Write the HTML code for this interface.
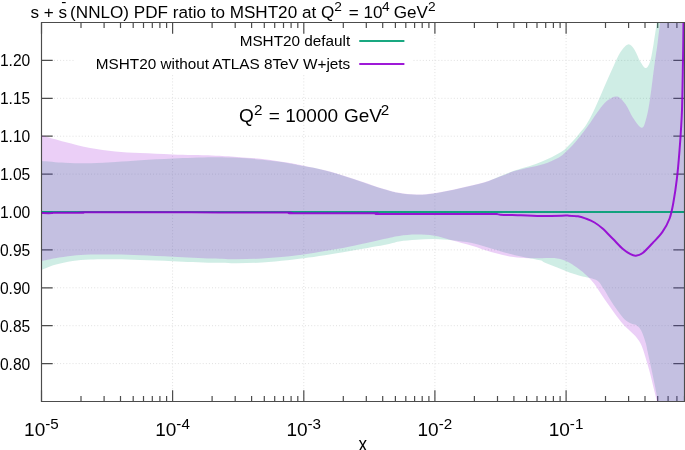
<!DOCTYPE html>
<html><head><meta charset="utf-8"><title>plot</title>
<style>html,body{margin:0;padding:0;background:#fff;overflow:hidden}body{width:685px;height:450px;position:relative}</style></head>
<body>
<svg width="685" height="450" viewBox="0 0 685 450" style="position:absolute;left:0;top:0;will-change:transform">
<defs><clipPath id="c"><rect x="41.5" y="22.5" width="643.5" height="379.0"/></clipPath></defs>
<path d="M172.6 22.5 V401.5 M303.8 22.5 V401.5 M434.9 22.5 V401.5 M566.1 22.5 V401.5 M41.5 60.4 H684.5 M41.5 98.3 H684.5 M41.5 136.2 H684.5 M41.5 174.1 H684.5 M41.5 212.0 H684.5 M41.5 249.9 H684.5 M41.5 287.8 H684.5 M41.5 325.7 H684.5 M41.5 363.6 H684.5" stroke="#e0e0e0" stroke-width="1" stroke-dasharray="1 2.1" fill="none"/>
<rect x="74" y="34" width="338.5" height="41" fill="#fff"/>
<path d="M41.5 401.5 v-11.3 M41.5 22.5 v11.3 M81.0 401.5 v-5.6 M81.0 22.5 v5.6 M104.1 401.5 v-5.6 M104.1 22.5 v5.6 M120.5 401.5 v-5.6 M120.5 22.5 v5.6 M133.2 401.5 v-5.6 M133.2 22.5 v5.6 M143.5 401.5 v-5.6 M143.5 22.5 v5.6 M152.3 401.5 v-5.6 M152.3 22.5 v5.6 M159.9 401.5 v-5.6 M159.9 22.5 v5.6 M166.6 401.5 v-5.6 M166.6 22.5 v5.6 M172.6 401.5 v-11.3 M172.6 22.5 v11.3 M212.1 401.5 v-5.6 M212.1 22.5 v5.6 M235.2 401.5 v-5.6 M235.2 22.5 v5.6 M251.6 401.5 v-5.6 M251.6 22.5 v5.6 M264.3 401.5 v-5.6 M264.3 22.5 v5.6 M274.7 401.5 v-5.6 M274.7 22.5 v5.6 M283.5 401.5 v-5.6 M283.5 22.5 v5.6 M291.1 401.5 v-5.6 M291.1 22.5 v5.6 M297.8 401.5 v-5.6 M297.8 22.5 v5.6 M303.8 401.5 v-11.3 M303.8 22.5 v11.3 M343.3 401.5 v-5.6 M343.3 22.5 v5.6 M366.3 401.5 v-5.6 M366.3 22.5 v5.6 M382.7 401.5 v-5.6 M382.7 22.5 v5.6 M395.4 401.5 v-5.6 M395.4 22.5 v5.6 M405.8 401.5 v-5.6 M405.8 22.5 v5.6 M414.6 401.5 v-5.6 M414.6 22.5 v5.6 M422.2 401.5 v-5.6 M422.2 22.5 v5.6 M428.9 401.5 v-5.6 M428.9 22.5 v5.6 M434.9 401.5 v-11.3 M434.9 22.5 v11.3 M474.4 401.5 v-5.6 M474.4 22.5 v5.6 M497.5 401.5 v-5.6 M497.5 22.5 v5.6 M513.9 401.5 v-5.6 M513.9 22.5 v5.6 M526.6 401.5 v-5.6 M526.6 22.5 v5.6 M537.0 401.5 v-5.6 M537.0 22.5 v5.6 M545.7 401.5 v-5.6 M545.7 22.5 v5.6 M553.4 401.5 v-5.6 M553.4 22.5 v5.6 M560.1 401.5 v-5.6 M560.1 22.5 v5.6 M566.1 401.5 v-11.3 M566.1 22.5 v11.3 M605.5 401.5 v-5.6 M605.5 22.5 v5.6 M628.6 401.5 v-5.6 M628.6 22.5 v5.6 M645.0 401.5 v-5.6 M645.0 22.5 v5.6 M657.7 401.5 v-5.6 M657.7 22.5 v5.6 M668.1 401.5 v-5.6 M668.1 22.5 v5.6 M676.9 401.5 v-5.6 M676.9 22.5 v5.6 M684.5 401.5 v-5.6 M684.5 22.5 v5.6 M41.5 60.4 h11.2 M684.5 60.4 h-11.2 M41.5 98.3 h11.2 M684.5 98.3 h-11.2 M41.5 136.2 h11.2 M684.5 136.2 h-11.2 M41.5 174.1 h11.2 M684.5 174.1 h-11.2 M41.5 212.0 h11.2 M684.5 212.0 h-11.2 M41.5 249.9 h11.2 M684.5 249.9 h-11.2 M41.5 287.8 h11.2 M684.5 287.8 h-11.2 M41.5 325.7 h11.2 M684.5 325.7 h-11.2 M41.5 363.6 h11.2 M684.5 363.6 h-11.2" stroke="#4c4c4c" stroke-width="1.2" fill="none"/>
<g clip-path="url(#c)">
<path d="M42.0 160.9C45.9 161.2 57.1 162.3 65.1 162.7C73.1 163.1 81.8 163.3 90.2 163.2C98.6 163.1 106.9 162.4 115.3 161.9C123.7 161.4 130.8 160.8 140.4 160.2C150.0 159.6 161.1 158.9 173.0 158.4C184.9 157.9 201.3 157.3 212.0 157.2C222.7 157.1 228.7 157.3 237.1 157.7C245.5 158.1 253.8 158.8 262.2 159.7C270.6 160.6 280.4 161.8 287.3 162.9C294.2 164.0 297.3 164.8 303.6 166.1C309.9 167.3 317.2 168.4 325.0 170.4C332.8 172.4 340.3 174.8 350.1 177.9C359.9 181.0 375.8 186.7 384.0 189.2C392.2 191.7 393.7 192.1 399.1 193.0C404.5 193.9 410.8 194.7 416.6 194.8C422.5 194.9 427.1 194.6 434.2 193.5C441.3 192.4 450.9 190.3 459.3 188.5C467.7 186.7 477.6 184.5 484.4 182.5C491.2 180.5 495.0 178.3 500.0 176.3C505.0 174.3 509.7 172.2 514.6 170.5C519.5 168.8 524.3 167.8 529.2 166.2C534.1 164.6 538.9 162.9 543.8 160.8C548.7 158.7 554.8 155.6 558.4 153.5C562.0 151.4 563.3 150.5 565.7 148.4C568.1 146.3 570.6 143.8 573.0 141.1C575.4 138.4 578.1 135.0 580.3 132.3C582.5 129.6 583.8 128.7 586.1 125.0C588.4 121.3 591.0 116.5 593.9 110.4C596.8 104.3 600.4 95.7 603.6 88.4C606.9 81.1 610.5 72.5 613.4 66.4C616.2 60.3 618.2 55.5 620.7 51.8C623.2 48.1 625.9 44.8 628.1 44.4C630.4 44.0 632.2 46.4 634.2 49.3C636.2 52.1 638.4 58.4 640.3 61.5C642.2 64.6 644.1 68.1 645.7 68.1C647.3 68.1 648.8 65.5 650.1 61.5C651.4 57.5 652.4 50.9 653.5 44.4C654.6 37.9 656.1 27.2 656.8 22.3C657.5 17.4 657.6 16.2 657.8 15.0 L700 15 L700 406 L659.0 406.0C658.8 405.2 658.6 404.5 657.9 401.1C657.2 397.7 656.0 391.1 654.9 385.7C653.8 380.3 652.5 374.3 651.3 368.6C650.1 362.9 648.5 355.7 647.6 351.5C646.7 347.3 646.8 346.6 645.8 343.2C644.8 339.8 642.8 333.8 641.3 330.8C639.8 327.8 638.5 326.6 636.9 325.4C635.3 324.2 633.7 324.7 631.6 323.7C629.5 322.7 626.8 321.4 624.4 319.2C622.0 317.0 619.7 313.6 617.3 310.3C614.9 307.1 612.6 303.4 610.2 299.7C607.8 296.0 605.2 291.2 603.1 288.1C601.0 285.0 600.2 282.7 597.8 281.0C595.4 279.3 591.6 278.6 588.9 277.8C586.2 277.0 584.9 277.1 581.6 276.2C578.4 275.3 573.5 273.9 569.4 272.5C565.3 271.1 561.3 269.2 557.2 267.6C553.1 266.0 547.9 264.0 545.0 262.8C542.1 261.6 543.5 261.2 540.1 260.3C536.7 259.4 529.7 258.3 524.6 257.2C519.5 256.1 514.9 255.2 509.5 253.8C504.1 252.4 498.3 250.5 492.0 248.7C485.7 246.9 478.6 244.4 471.9 243.0C465.2 241.6 458.1 240.9 451.8 240.2C445.5 239.5 440.1 239.0 434.2 238.9C428.3 238.8 422.5 239.3 416.6 239.7C410.8 240.1 404.5 240.5 399.1 241.4C393.7 242.3 392.2 243.5 384.0 245.1C375.8 246.7 359.9 249.3 350.1 251.0C340.3 252.7 332.8 254.0 325.0 255.2C317.2 256.4 309.9 257.4 303.6 258.2C297.3 259.0 294.2 259.5 287.3 260.2C280.4 260.9 270.6 262.0 262.2 262.5C253.8 263.0 245.5 263.1 237.1 263.2C228.7 263.2 222.7 263.1 212.0 262.8C201.3 262.5 184.9 261.7 173.0 261.2C161.1 260.7 150.0 260.3 140.4 260.0C130.8 259.7 123.7 259.4 115.3 259.3C106.9 259.2 97.3 259.2 90.2 259.5C83.1 259.8 78.4 260.1 72.6 261.0C66.8 261.9 60.2 263.3 55.1 264.8C50.0 266.3 44.2 269.0 42.0 269.8Z" fill="#009e73" fill-opacity="0.19"/>
<path d="M42.0 135.6C45.9 136.7 57.1 140.0 65.1 142.1C73.1 144.2 81.8 146.5 90.2 148.1C98.6 149.7 106.9 150.6 115.3 151.4C123.7 152.2 130.8 152.6 140.4 153.1C150.0 153.6 161.1 154.0 173.0 154.4C184.9 154.8 201.3 155.0 212.0 155.4C222.7 155.8 228.7 156.3 237.1 156.9C245.5 157.5 253.8 158.0 262.2 158.9C270.6 159.8 280.4 161.4 287.3 162.5C294.2 163.6 297.3 164.4 303.6 165.7C309.9 167.0 317.2 168.2 325.0 170.2C332.8 172.2 340.3 174.6 350.1 177.7C359.9 180.8 375.8 186.5 384.0 189.0C392.2 191.5 393.7 191.9 399.1 192.8C404.5 193.7 410.8 194.5 416.6 194.6C422.5 194.7 427.1 194.4 434.2 193.3C441.3 192.2 450.9 190.1 459.3 188.3C467.7 186.5 477.6 184.2 484.4 182.3C491.2 180.4 495.0 178.5 500.0 176.6C505.0 174.7 509.7 172.6 514.6 171.1C519.5 169.6 524.3 168.8 529.2 167.6C534.1 166.4 538.9 165.7 543.8 164.1C548.7 162.5 554.8 159.8 558.4 157.8C562.0 155.8 563.3 154.2 565.7 152.0C568.1 149.8 570.6 147.4 573.0 144.7C575.4 142.0 577.9 138.9 580.3 135.9C582.7 132.9 584.5 130.8 587.6 126.5C590.7 122.2 595.4 114.7 598.7 110.4C602.0 106.1 604.2 102.9 607.3 100.6C610.4 98.3 614.0 95.9 617.1 96.5C620.2 97.1 623.0 100.8 625.6 104.3C628.2 107.8 630.3 113.8 633.0 117.7C635.7 121.6 639.6 127.8 641.8 127.8C644.0 127.8 645.0 122.6 646.4 117.7C647.8 112.8 648.9 106.3 650.1 98.2C651.4 90.1 652.6 78.3 653.9 68.9C655.2 59.5 656.7 49.8 657.7 42.0C658.7 34.2 659.6 26.8 660.1 22.3C660.6 17.8 660.9 16.2 661.0 15.0 L700 15 L700 406 L658.0 406.0C657.8 405.2 657.6 404.1 656.9 401.1C656.2 398.1 654.8 392.8 653.7 388.2C652.6 383.6 651.5 378.8 650.1 373.5C648.7 368.2 646.7 361.1 645.2 356.4C643.7 351.6 642.7 348.1 641.3 345.0C639.9 341.9 638.8 340.3 636.9 337.9C635.0 335.5 632.2 333.2 629.8 330.8C627.4 328.4 625.1 326.4 622.7 323.7C620.3 321.0 618.3 318.4 615.6 314.8C612.9 311.2 609.4 306.2 606.7 302.3C604.0 298.4 601.7 294.8 599.6 291.7C597.5 288.6 596.0 286.0 594.2 283.7C592.4 281.4 590.6 279.5 588.9 277.8C587.2 276.1 586.1 275.0 584.1 273.3C582.1 271.6 579.6 269.6 576.8 267.6C573.9 265.6 570.3 263.0 567.0 261.5C563.7 260.0 561.7 258.9 557.2 258.4C552.7 257.8 545.5 258.3 540.1 258.2C534.7 258.1 529.7 258.3 524.6 258.0C519.5 257.7 514.9 257.3 509.5 256.4C504.1 255.4 498.3 254.1 492.0 252.3C485.7 250.5 478.6 247.7 471.9 245.7C465.2 243.7 458.1 241.9 451.8 240.2C445.5 238.5 440.1 236.6 434.2 235.7C428.3 234.8 422.5 234.6 416.6 234.6C410.8 234.6 404.5 235.2 399.1 235.9C393.7 236.6 392.2 237.2 384.0 238.9C375.8 240.7 359.9 244.4 350.1 246.4C340.3 248.4 332.8 249.7 325.0 251.0C317.2 252.3 309.9 253.6 303.6 254.5C297.3 255.4 294.2 255.8 287.3 256.5C280.4 257.2 270.6 258.0 262.2 258.5C253.8 259.0 245.5 259.3 237.1 259.3C228.7 259.3 222.7 258.9 212.0 258.5C201.3 258.1 184.9 257.2 173.0 256.7C161.1 256.1 150.0 255.6 140.4 255.2C130.8 254.8 123.7 254.6 115.3 254.5C106.9 254.4 97.3 254.3 90.2 254.5C83.1 254.7 78.4 255.1 72.6 255.7C66.8 256.3 60.2 257.3 55.1 258.2C50.0 259.1 44.2 260.5 42.0 261.0Z" fill="#9400d3" fill-opacity="0.19"/>
<path d="M41.5 212.0 H690" stroke="#009e73" stroke-width="2" stroke-opacity="0.9" fill="none"/>
<path d="M41.0 213.1C42.8 213.1 49.9 213.2 52.0 213.1C54.1 213.0 48.4 212.8 53.5 212.7C58.6 212.6 77.3 212.8 82.5 212.7C87.7 212.6 73.2 212.4 84.5 212.3C95.8 212.2 127.4 212.3 150.0 212.3C172.6 212.3 197.0 212.4 220.0 212.4C243.0 212.4 276.2 212.3 288.0 212.4C299.8 212.5 283.5 213.1 290.5 213.2C297.5 213.3 315.8 213.2 330.0 213.2C344.2 213.2 367.9 213.2 376.0 213.3C384.1 213.4 369.5 213.9 378.5 214.0C387.5 214.1 413.1 214.0 430.0 214.0C446.9 214.0 468.9 214.0 480.0 214.0C491.1 214.0 493.0 214.0 496.4 214.1C499.8 214.2 496.3 214.5 500.4 214.7C504.5 214.9 514.8 215.1 520.9 215.3C527.0 215.5 530.4 215.8 537.2 215.9C544.0 216.0 556.7 215.8 561.8 215.7C566.9 215.6 565.2 215.5 567.9 215.6C570.6 215.7 575.0 215.8 578.1 216.3C581.2 216.8 583.6 217.8 586.3 218.8C589.0 219.8 591.8 220.9 594.5 222.5C597.2 224.1 599.6 225.9 602.6 228.6C605.6 231.3 609.4 235.4 612.8 238.8C616.2 242.2 620.2 246.7 623.2 249.3C626.2 251.9 628.4 253.1 630.5 254.2C632.6 255.3 633.9 255.9 635.9 255.7C637.9 255.5 639.9 255.1 642.7 253.0C645.5 250.9 649.2 246.7 652.5 243.2C655.8 239.7 659.4 236.3 662.3 232.2C665.1 228.1 667.8 223.4 669.6 218.5C671.4 213.6 672.1 209.7 673.3 203.0C674.5 196.3 675.9 187.1 676.9 178.6C677.9 170.1 678.8 159.5 679.4 151.8C680.0 144.1 680.4 139.2 680.8 132.2C681.2 125.2 681.6 122.0 682.0 110.0C682.4 98.0 682.7 75.8 683.0 60.0C683.3 44.2 683.5 22.5 683.6 15.0" stroke="#9400d3" stroke-width="2" stroke-opacity="0.9" fill="none" stroke-linejoin="round"/>
</g>
<path d="M41.5 22.5 H684.5 V401.5 H41.5 Z" stroke="#4c4c4c" stroke-width="1.15" fill="none"/>
<path d="M360 41 H403.6" stroke="#009e73" stroke-width="2" stroke-opacity="0.9" stroke-linecap="round"/>
<path d="M360 64 H403.6" stroke="#9400d3" stroke-width="2" stroke-opacity="0.9" stroke-linecap="round"/>
<text id="title" x="30.4" y="17.5" font-size="17.1" font-family="Liberation Sans, sans-serif" fill="#000">s + s<tspan dx="-1.6"> (NNLO) PDF ratio to MSHT20 at Q</tspan><tspan dy="-6.4" font-size="13.7">2</tspan><tspan dy="6.4" dx="2.2"> = 10</tspan><tspan dy="-6.4" dx="-0.6" font-size="13.7">4</tspan><tspan dy="6.4" dx="-0.6"> GeV</tspan><tspan dy="-6.4" font-size="13.7">2</tspan></text>
<text id="bar" x="61.3" y="6.6" font-size="15.5" font-family="Liberation Sans, sans-serif" fill="#000">-</text>
<text id="leg1" x="350.2" y="46.4" text-anchor="end" font-size="15.3" font-family="Liberation Sans, sans-serif" fill="#000">MSHT20 default</text>
<text id="leg2" x="350.2" y="69.4" text-anchor="end" font-size="15.3" font-family="Liberation Sans, sans-serif" fill="#000">MSHT20 without ATLAS 8TeV W+jets</text>
<text id="q2" x="239.1" y="121.8" font-size="19.0" font-family="Liberation Sans, sans-serif" fill="#000">Q<tspan dy="-7" font-size="15.2">2</tspan><tspan dy="7" dx="1.2"> = 10000</tspan><tspan dx="0.6"> GeV</tspan><tspan dy="-7" dx="-1.3" font-size="15.2">2</tspan></text>
<text class="yl" x="-0.1" y="66.4" font-size="15.6" font-family="Liberation Sans, sans-serif" fill="#000">1.20</text>
<text class="yl" x="-0.1" y="104.3" font-size="15.6" font-family="Liberation Sans, sans-serif" fill="#000">1.15</text>
<text class="yl" x="-0.1" y="142.2" font-size="15.6" font-family="Liberation Sans, sans-serif" fill="#000">1.10</text>
<text class="yl" x="-0.1" y="180.1" font-size="15.6" font-family="Liberation Sans, sans-serif" fill="#000">1.05</text>
<text class="yl" x="-0.1" y="218.0" font-size="15.6" font-family="Liberation Sans, sans-serif" fill="#000">1.00</text>
<text class="yl" x="-0.1" y="255.9" font-size="15.6" font-family="Liberation Sans, sans-serif" fill="#000">0.95</text>
<text class="yl" x="-0.1" y="293.8" font-size="15.6" font-family="Liberation Sans, sans-serif" fill="#000">0.90</text>
<text class="yl" x="-0.1" y="331.7" font-size="15.6" font-family="Liberation Sans, sans-serif" fill="#000">0.85</text>
<text class="yl" x="-0.1" y="369.6" font-size="15.6" font-family="Liberation Sans, sans-serif" fill="#000">0.80</text>
<text class="xl" x="24.1" y="436.1" font-size="19.0" font-family="Liberation Sans, sans-serif" fill="#000">10<tspan dy="-7.4" font-size="15.2">-5</tspan></text>
<text class="xl" x="155.2" y="436.1" font-size="19.0" font-family="Liberation Sans, sans-serif" fill="#000">10<tspan dy="-7.4" font-size="15.2">-4</tspan></text>
<text class="xl" x="286.4" y="436.1" font-size="19.0" font-family="Liberation Sans, sans-serif" fill="#000">10<tspan dy="-7.4" font-size="15.2">-3</tspan></text>
<text class="xl" x="417.5" y="436.1" font-size="19.0" font-family="Liberation Sans, sans-serif" fill="#000">10<tspan dy="-7.4" font-size="15.2">-2</tspan></text>
<text class="xl" x="548.7" y="436.1" font-size="19.0" font-family="Liberation Sans, sans-serif" fill="#000">10<tspan dy="-7.4" font-size="15.2">-1</tspan></text>
<text id="xlab" transform="translate(358.4,451) scale(1,1.22)" font-size="17.1" font-family="Liberation Sans, sans-serif" fill="#000">x</text>
</svg>
</body></html>
